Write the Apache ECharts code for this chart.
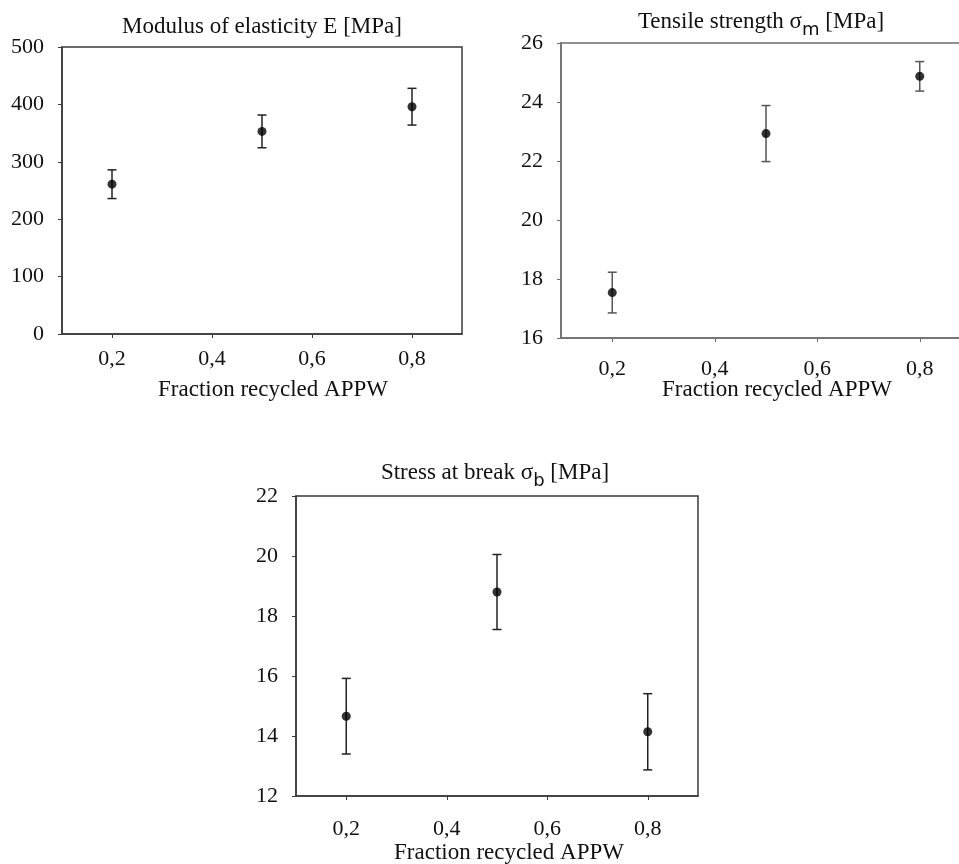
<!DOCTYPE html>
<html>
<head>
<meta charset="utf-8">
<script src="https://cdn.jsdelivr.net/npm/echarts@6/dist/echarts.min.js"></script>
<style>
html,body{margin:0;padding:0;background:#fff;overflow:hidden;width:959px;height:864px;}
#chart{width:990px;height:864px;}
</style>
</head>
<body>
<div id="chart"></div>
<script>
// ---- data ----
var fractions = [0.2, 0.5, 0.8];
var xTicks = [0.2, 0.4, 0.6, 0.8];

var modulusMean = [261, 353, 396];
var modulusErr  = [25, 28.5, 32];

var tensileMean = [17.54, 22.93, 24.87];
var tensileErr  = [0.69, 0.95, 0.5];

var breakMean = [14.66, 18.80, 14.14];
var breakErr  = [1.26, 1.25, 1.27];

var titles = ['Modulus of elasticity E [MPa]', 'Tensile strength {s|σ}{sub|m} [MPa]', 'Stress at break {s|σ}{sub|b} [MPa]'];
var xName = 'Fraction recycled APPW';

var yRanges = [[0, 500, 100], [16, 26, 2], [12, 22, 2]];

// ---- chart ----
var FONT = '"Liberation Serif", "Times New Roman", serif';
var axisColors = ['#3a3a3a', '#6e6e6e', '#3a3a3a'];
var errColors = ['#222', '#555', '#222'];

var grids = [
  {left: 62, top: 47, width: 400, height: 287},
  {left: 561, top: 43, width: 410, height: 295},
  {left: 296, top: 496, width: 402, height: 300}
];

function fmtX(v) { return v.toFixed(1).replace('.', ','); }

function buildSeries(idx, mean, err) {
  var pts = fractions.map(function (f, i) { return [f, mean[i]]; });
  var errs = fractions.map(function (f, i) { return [f, mean[i] - err[i], mean[i] + err[i]]; });
  return [
    {
      type: 'custom',
      xAxisIndex: idx, yAxisIndex: idx,
      data: errs,
      silent: true,
      renderItem: function (params, api) {
        var x = api.value(0);
        var lo = api.coord([x, api.value(1)]);
        var hi = api.coord([x, api.value(2)]);
        var hw = 4.5;
        var st = {stroke: errColors[idx], lineWidth: 1.5, fill: null};
        return {
          type: 'group',
          children: [
            {type: 'line', shape: {x1: lo[0], y1: lo[1], x2: hi[0], y2: hi[1]}, style: st},
            {type: 'line', shape: {x1: lo[0] - hw, y1: lo[1], x2: lo[0] + hw, y2: lo[1]}, style: st},
            {type: 'line', shape: {x1: hi[0] - hw, y1: hi[1], x2: hi[0] + hw, y2: hi[1]}, style: st}
          ]
        };
      },
      z: 2
    },
    {
      type: 'scatter',
      xAxisIndex: idx, yAxisIndex: idx,
      data: pts,
      symbol: 'circle',
      symbolSize: 9,
      itemStyle: {color: '#000'},
      silent: true,
      z: 3
    }
  ];
}

var xAxes = grids.map(function (g, i) {
  return {
    type: 'value', gridIndex: i, min: 0.1, max: 0.9,
    axisLine: {show: true, lineStyle: {color: axisColors[i], width: 1.5}},
    axisTick: {show: true, length: 4, customValues: xTicks, lineStyle: {color: axisColors[i]}},
    axisLabel: {customValues: xTicks, formatter: fmtX, color: '#111', fontFamily: FONT, fontSize: 22,
                margin: [14, 20, 22][i]},
    splitLine: {show: false}
  };
});

var yAxes = grids.map(function (g, i) {
  return {
    type: 'value', gridIndex: i, min: yRanges[i][0], max: yRanges[i][1], interval: yRanges[i][2],
    axisLine: {show: true, lineStyle: {color: axisColors[i], width: 1.5}},
    axisTick: {show: true, length: 4, lineStyle: {color: axisColors[i]}},
    axisLabel: {color: '#111', fontFamily: FONT, fontSize: 22, margin: 18},
    splitLine: {show: false}
  };
});

var gridOpts = grids.map(function (g, i) {
  return Object.assign({show: true, borderColor: axisColors[i], borderWidth: 1.5, backgroundColor: 'transparent'}, g);
});

var rich = {
  s: {fontFamily: FONT, fontSize: 23, fill: '#111'},
  sub: {fontFamily: '"DejaVu Sans", sans-serif', fontSize: 18, fill: '#111', padding: [16, 0, 0, 0]}
};

function textEl(txt, x, y) {
  return {
    type: 'text', x: x, y: y, silent: true,
    style: {
      text: txt, fill: '#111', font: '23px ' + FONT,
      align: 'center', verticalAlign: 'middle', rich: rich
    }
  };
}

var graphics = [
  textEl(titles[0], 262, 27),
  textEl(titles[1], 761, 22),
  textEl(titles[2], 495, 473),
  textEl(xName, 273, 390),
  textEl(xName, 777, 390),
  textEl(xName, 509, 853)
];

var chart = echarts.init(document.getElementById('chart'), null, {renderer: 'canvas'});
chart.setOption({
  backgroundColor: '#fff',
  animation: false,
  grid: gridOpts,
  xAxis: xAxes,
  yAxis: yAxes,
  graphic: graphics,
  series: [].concat(
    buildSeries(0, modulusMean, modulusErr),
    buildSeries(1, tensileMean, tensileErr),
    buildSeries(2, breakMean, breakErr)
  )
});
</script>
</body>
</html>
